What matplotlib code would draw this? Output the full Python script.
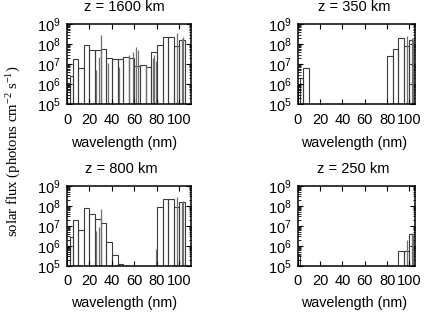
import matplotlib
matplotlib.use("Agg")
import matplotlib.pyplot as plt
from matplotlib.ticker import LogLocator, LogFormatterMathtext, MultipleLocator, NullFormatter

plt.rcParams['font.family'] = ['Liberation Sans', 'DejaVu Sans']
plt.rcParams['font.size'] = 10

# wavelength bins (nm): continuum intervals and emission lines
bin_lo = [0.3, 2.3, 5, 10, 15, 20, 25.63, 28.415, 25, 30.378, 30, 36.807, 35, 40, 46.522, 45, 50,
          55.437, 58.433, 55, 60.976, 62.973, 60, 65, 70.336, 70, 76.515, 77.041, 78.936, 75, 80, 85, 90,
          97.702, 95, 102.572, 103.191, 100]
bin_hi = [2.3, 5, 10, 15, 20, 25, 25.63, 28.415, 30, 30.378, 35, 36.807, 40, 45, 46.522, 50, 55,
          55.437, 58.433, 60, 60.976, 62.973, 65, 70, 70.336, 75, 76.515, 77.041, 78.936, 80, 85, 90, 95,
          97.702, 100, 102.572, 103.191, 105]

flux_1600 = [1.1e6, 2.6e6, 1.8e7, 6.3e6, 8.9e7, 5.2e7, 5e6, 2.4e7, 5.2e7, 3e8, 5.8e7, 1.2e7, 2e7, 1.8e7, 7.6e6, 1.9e7, 2.4e7,
             3e7, 4e7, 2e7, 7e7, 5e7, 8e6, 9e6, 8e6, 7.6e6, 2e7, 3e7, 1.5e7, 4e7, 9e7, 2.4e8, 2.2e8,
             3.5e8, 8.5e7, 1.8e8, 2.2e8, 1.6e8]
flux_350 = [9e5, 2.1e6, 6.3e6, 0, 0, 0, 0, 0, 0, 0, 0, 0, 0, 0, 0, 0, 0,
            0, 0, 0, 0, 0, 0, 0, 0, 0, 0, 0, 0, 0, 2.7e7, 5.8e7, 2e8,
            2.7e8, 8e7, 2e8, 1.8e8, 1.6e8]
flux_800 = [9e5, 2.7e6, 2e7, 6.3e6, 7.6e7, 4e7, 5.6e6, 9e6, 2.2e7, 7e7, 1.4e7, 0, 1.6e6, 3.5e5, 0, 1.2e5, 0,
            0, 0, 0, 0, 0, 0, 0, 0, 0, 0, 0, 7e5, 0, 9e7, 2.2e8, 2.2e8,
            2.9e8, 9e7, 1.6e8, 1.8e8, 1.5e8]
flux_250 = [3.5e5, 0, 0, 0, 0, 0, 0, 0, 0, 0, 0, 0, 0, 0, 0, 0, 0,
            0, 0, 0, 0, 0, 0, 0, 0, 0, 0, 0, 0, 0, 0, 0, 5.6e5,
            2e6, 5.6e5, 4.5e6, 3.5e6, 4e6]

titles = ["z = 1600 km", "z = 350 km", "z = 800 km", "z = 250 km"]
fluxes = [flux_1600, flux_350, flux_800, flux_250]
xmax = [110, 105, 110, 105]

W, H = 424, 313
fig = plt.figure(figsize=(W / 100, H / 100), dpi=100)

# axes boxes in pixels: (left, top, right, bottom)
boxes = [(67, 24.3, 190.7, 104.3), (297.7, 24.3, 415, 104.3),
         (67, 186, 190.7, 266), (297.7, 186, 415, 266)]
title_pos = [(124, 7), (354.5, 7), (121.5, 168.5), (353, 168.5)]
xlab_pos = [(124, 142.5), (354.5, 143.5), (124, 302.5), (354.5, 303.5)]

for i in range(4):
    l, t, r, b = boxes[i]
    ax = fig.add_axes([l / W, 1 - b / H, (r - l) / W, (b - t) / H])
    fl = fluxes[i]
    for lo, hi, v in zip(bin_lo, bin_hi, fl):
        if v <= 0:
            continue
        if hi - lo > 0:
            ax.bar(lo, v - 1.0, width=hi - lo, bottom=1.0, align='edge', fill=False,
                   edgecolor='#3c3c3c', linewidth=0.8)
        else:
            # emission line: a single thin vertical stroke
            ax.vlines(lo, 1.0, v, colors='#707070', linewidth=0.9)
    ax.set_yscale('log')
    ax.set_ylim(1e5, 1e9)
    ax.set_xlim(0, xmax[i])
    ax.xaxis.set_major_locator(MultipleLocator(20))
    ax.yaxis.set_major_locator(LogLocator(base=10, numticks=10))
    ax.yaxis.set_minor_locator(LogLocator(base=10, subs=range(2, 10), numticks=20))
    ax.yaxis.set_major_formatter(LogFormatterMathtext())
    ax.yaxis.set_minor_formatter(NullFormatter())
    ax.tick_params(which='major', direction='in', length=3.5, width=0.8, top=True, right=True,
                   labelsize=10.5, color='black')
    ax.tick_params(axis='x', which='major', pad=6)
    ax.tick_params(axis='y', which='major', pad=4.5)
    ax.tick_params(which='minor', direction='in', length=1.8, width=0.6, top=True, right=True)
    for s in ax.spines.values():
        s.set_linewidth(1.1)
    tx, ty = title_pos[i]
    fig.text(tx / W, 1 - ty / H, titles[i], ha='center', va='center', fontsize=10.5)
    xx, xy = xlab_pos[i]
    fig.text(xx / W, 1 - xy / H, "wavelength (nm)", ha='center', va='center', fontsize=10.3)

fig.text(14 / W, 1 - 151 / H, r"solar flux (photons cm$\mathdefault{^{-2}}$ s$\mathdefault{^{-1}}$)",
         rotation=90, ha='center', va='center', fontsize=10.6,
         family=['Liberation Serif', 'DejaVu Serif'])

fig.savefig("out.png", dpi=100)
